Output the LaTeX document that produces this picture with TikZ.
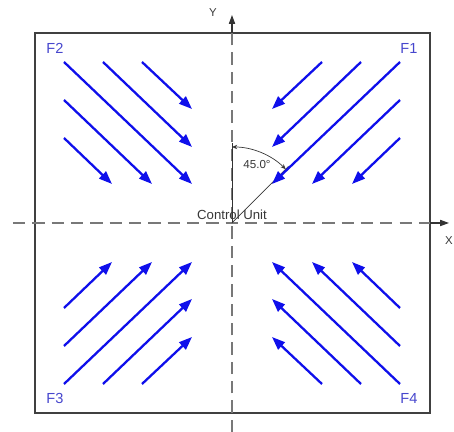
\documentclass[tikz,border=0pt]{standalone}
\usepackage{fontspec}
\setmainfont{Liberation Sans}
\usepackage{tikz}
\usetikzlibrary{arrows.meta, positioning}
\definecolor{flowblue}{RGB}{15,15,235}
\definecolor{labelblue}{RGB}{70,70,205}
\definecolor{axisgray}{RGB}{120,120,120}
\definecolor{textgray}{RGB}{55,55,55}

\begin{document}
\begin{tikzpicture}[
  x=0.02cm, y=0.02cm,
  flow/.style={-{Triangle[length=7.5pt, width=5.5pt]}, line width=1.3pt, flowblue},
  axis/.style={axisgray, line width=0.7pt, dash pattern=on 7pt off 4pt},
  axistip/.style={-{Triangle[length=5pt, width=3.5pt]}, line width=0.6pt, black!80},
  quadlabel/.style={font=\fontsize{8.3}{9}\selectfont, text=labelblue, inner sep=0pt},
  axislabel/.style={font=\fontsize{6.5}{8}\selectfont, text=textgray, inner sep=0pt},
  dim/.style={line width=0.4pt, textgray},
]
\useasboundingbox (-232,-209) rectangle (222,223);

% Frame
\draw[line width=0.85pt, black!75] (-197,-190) rectangle (198,190);

% Axes
\coordinate (O) at (0,0);
\coordinate (ybot) at (0,-209);
\coordinate (ytop) at (0,190);
\coordinate (yend) at (0,208);
\coordinate (xbeg) at (-219,0);
\coordinate (xright) at (198,0);
\coordinate (xend) at (217,0);
\draw[axis] (ybot) -- (ytop);
\draw[axistip] (ytop) -- (yend);
\draw[axis] (xbeg) -- (xright);
\draw[axistip] (xright) -- (xend);
\node[axislabel] (ylab) at (-19,210) {Y};
\node[axislabel] (xlab) at (217,-18) {X};

% Angle of the flows
\coordinate (ref) at (0,80);
\coordinate (diag) at (45:80);
\draw[dim, black!80] (O) -- (ref);
\draw[dim] (O) -- (diag);
\draw[dim, {Stealth[length=3pt, width=2.5pt]}-{Stealth[length=3pt, width=2.5pt]}] (0,76) arc[start angle=90, end angle=45, radius=76];
\node[font=\fontsize{6.6}{7}\selectfont, text=textgray] (ang) at (25,58) {45.0°};
\node[font=\fontsize{7.5}{9}\selectfont, text=textgray, inner sep=0pt] (cu) at (0,8) {Control Unit};

% Flows, one set per quadrant
\foreach \sx/\sy/\lab in {1/1/F1, -1/1/F2, -1/-1/F3, 1/-1/F4} {
  \node[quadlabel] (lab\lab) at (\sx*177, \sy*175) {\lab};
  \foreach \ax/\ay/\bx/\by in {168/161/40/39, 129/161/40/76, 90/161/40/114, 168/123/80/39, 168/85/120/39} {
    \draw[flow] (\sx*\ax, \sy*\ay) -- (\sx*\bx, \sy*\by);
  }
}

\end{tikzpicture}
\end{document}
